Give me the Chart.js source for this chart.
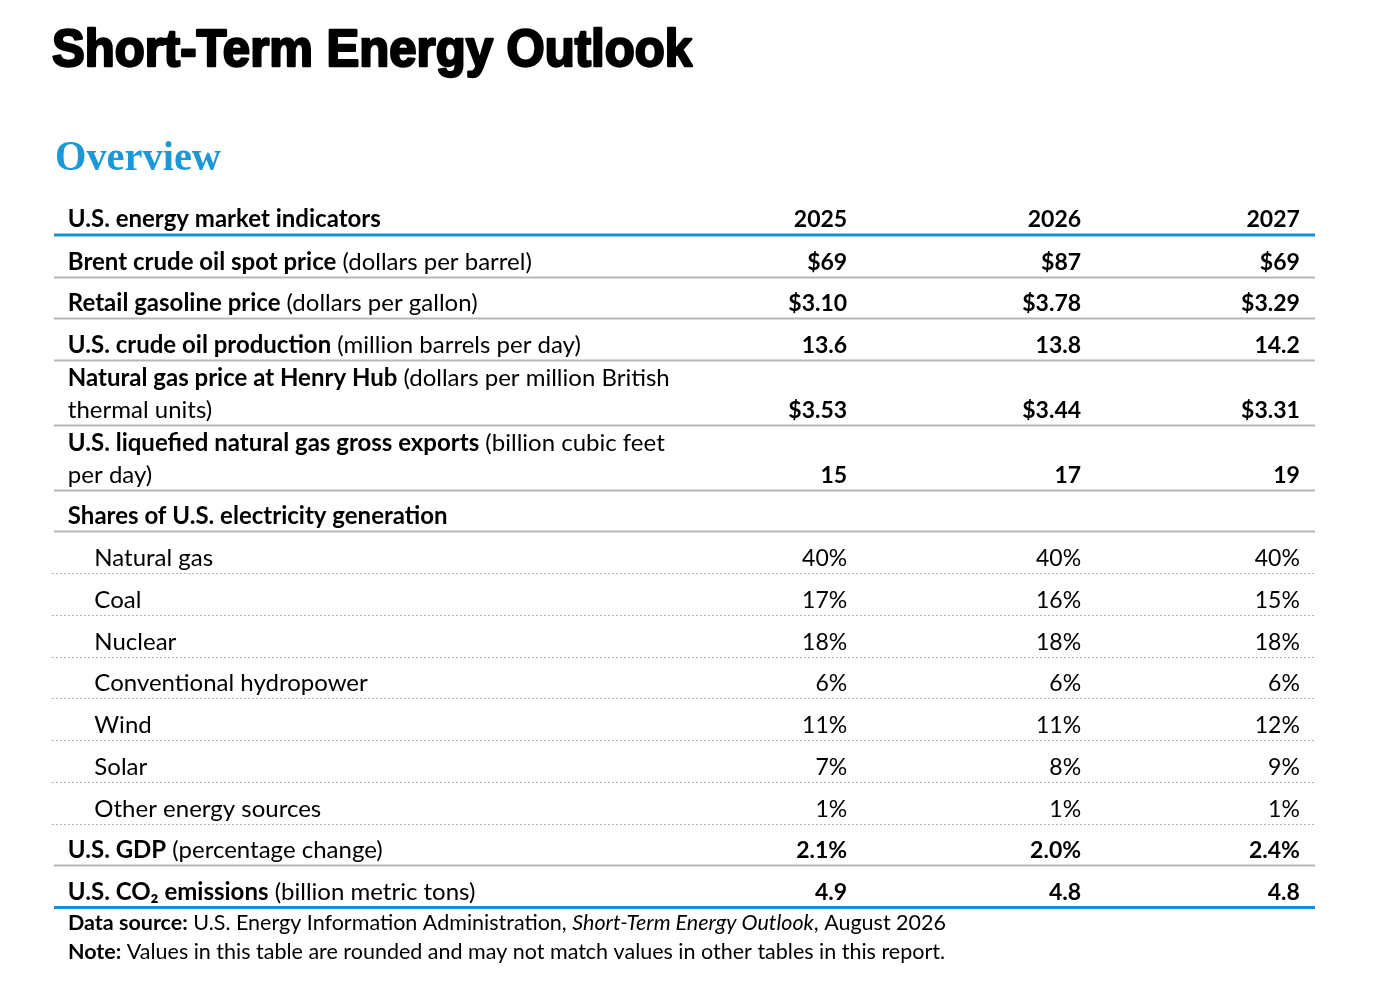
<!DOCTYPE html>
<html>
<head>
<meta charset="utf-8">
<script src="https://cdn.jsdelivr.net/npm/chart.js@4.4.1/dist/chart.umd.min.js"></script>
<style>
  html, body { margin: 0; padding: 0; background: #fff; }
  #wrap { width: 1373px; height: 1006px; position: relative; }
</style>
</head>
<body>
<div id="wrap"><canvas id="steoTable"></canvas></div>
<script>
// table content
const years = ['2025', '2026', '2027'];

const indicators = [
  'Brent crude oil spot price',
  'Retail gasoline price',
  'U.S. crude oil production',
  'Natural gas price at Henry Hub',
  'U.S. liquefied natural gas gross exports',
  'Shares of U.S. electricity generation',
  'Natural gas',
  'Coal',
  'Nuclear',
  'Conventional hydropower',
  'Wind',
  'Solar',
  'Other energy sources',
  'U.S. GDP',
  'U.S. CO\u2082 emissions'
];
const units = [
  '(dollars per barrel)',
  '(dollars per gallon)',
  '(million barrels per day)',
  '(dollars per million British\nthermal units)',
  '(billion cubic feet\nper day)',
  '', '', '', '', '', '', '', '',
  '(percentage change)',
  '(billion metric tons)'
];
// 'main' = bold indicator, 'group' = section heading, 'sub' = indented share
const rowKinds = ['main', 'main', 'main', 'main', 'main', 'group',
  'sub', 'sub', 'sub', 'sub', 'sub', 'sub', 'sub', 'main', 'main'];

const values2025 = [69, 3.10, 13.6, 3.53, 15, null, 40, 17, 18, 6, 11, 7, 1, 2.1, 4.9];
const values2026 = [87, 3.78, 13.8, 3.44, 17, null, 40, 16, 18, 6, 11, 8, 1, 2.0, 4.8];
const values2027 = [69, 3.29, 14.2, 3.31, 19, null, 40, 15, 18, 6, 12, 9, 1, 2.4, 4.8];

const prefixes = ['$', '$', '', '$', '', '', '', '', '', '', '', '', '', '', ''];
const suffixes = ['', '', '', '', '', '', '%', '%', '%', '%', '%', '%', '%', '%', ''];
const decimals = [0, 2, 1, 2, 0, 0, 0, 0, 0, 0, 0, 0, 0, 1, 1];

// layout
const FONT = 'Lato, "Noto Sans", sans-serif';
const colRight = [62.9, 81.45, 98.8];   // x-scale position of each year column (right edge)
const labelX = 1.1, indentX = 3.2;
const BLUE = '#1690d4';

// row heights in row units, two-line rows are taller
const rowUnits = units.map(u => u.indexOf('\n') >= 0 ? 1.55 : 1);
const rowBottom = [];
let acc = 0;
rowUnits.forEach(h => { acc += h; rowBottom.push(acc); });
const totalUnits = acc;

function fmt(i, v) {
  return prefixes[i] + v.toFixed(decimals[i]) + suffixes[i];
}

function makeDataset(label, vals) {
  const pts = [];
  vals.forEach((v, i) => {
    if (v !== null) pts.push({ x: colRight[years.indexOf(label)], y: rowBottom[i], row: i, v: v });
  });
  return { label: label, data: pts, pointRadius: 0, showLine: false };
}

function drawParts(ctx, parts, x, y) {
  let cx = x;
  parts.forEach(p => {
    ctx.font = p.font;
    ctx.fillText(p.text, cx, y);
    cx += ctx.measureText(p.text).width;
  });
}

const tablePlugin = {
  id: 'tableText',
  afterDraw(chart) {
    const ctx = chart.ctx;
    const xs = chart.scales.x, ys = chart.scales.y;
    const left = xs.getPixelForValue(0), right = xs.getPixelForValue(100);
    const bold = 'bold 24px ' + FONT, reg = '24px ' + FONT;
    const vBold = 'bold 23px ' + FONT, vReg = '23px ' + FONT;
    ctx.save();
    ctx.fillStyle = '#000';
    ctx.textBaseline = 'alphabetic';

    // title
    ctx.save();
    ctx.font = 'bold 52px "Liberation Sans", Arial, sans-serif';
    let w = ctx.measureText('Short-Term Energy Outlook').width;
    ctx.translate(52, 66);
    ctx.scale(640 / w, 1);
    ctx.lineWidth = 2.4;
    ctx.lineJoin = 'round';
    ctx.strokeStyle = '#000';
    ctx.fillText('Short-Term Energy Outlook', 0, 0);
    ctx.strokeText('Short-Term Energy Outlook', 0, 0);
    ctx.restore();

    // section heading
    ctx.save();
    ctx.font = 'bold 43px "Liberation Serif", "DejaVu Serif", serif';
    ctx.fillStyle = '#1a98d8';
    w = ctx.measureText('Overview').width;
    ctx.translate(55, 170);
    ctx.scale(166 / w, 1);
    ctx.fillText('Overview', 0, 0);
    ctx.restore();

    // column header
    const top = ys.getPixelForValue(0);
    ctx.font = bold;
    ctx.textAlign = 'left';
    ctx.fillText('U.S. energy market indicators', xs.getPixelForValue(labelX), top - 8);
    ctx.font = vBold;
    ctx.textAlign = 'right';
    years.forEach((yr, j) => ctx.fillText(yr, xs.getPixelForValue(colRight[j]), top - 8));

    // rules
    ctx.strokeStyle = BLUE;
    ctx.lineWidth = 3;
    ctx.beginPath(); ctx.moveTo(left, top); ctx.lineTo(right, top); ctx.stroke();
    rowBottom.forEach((b, i) => {
      const py = Math.round(ys.getPixelForValue(b)) + 0.5;
      ctx.beginPath();
      if (i === rowBottom.length - 1) {
        ctx.strokeStyle = BLUE; ctx.lineWidth = 3; ctx.setLineDash([]);
      } else if (rowKinds[i] === 'sub') {
        ctx.strokeStyle = '#b3b3b3'; ctx.lineWidth = 1; ctx.setLineDash([2, 2]);
      } else {
        ctx.strokeStyle = '#b8b8b8'; ctx.lineWidth = 2; ctx.setLineDash([]);
      }
      ctx.moveTo(left - (rowKinds[i] === 'sub' ? 2 : 0), py);
      ctx.lineTo(right, py);
      ctx.stroke();
    });
    ctx.setLineDash([]);

    // row labels
    ctx.textAlign = 'left';
    indicators.forEach((name, i) => {
      const base = ys.getPixelForValue(rowBottom[i]) - 7;
      if (rowKinds[i] === 'sub') {
        ctx.font = reg;
        ctx.fillText(name, xs.getPixelForValue(indentX), base);
        return;
      }
      const lines = units[i].split('\n');
      const lx = xs.getPixelForValue(labelX);
      const firstBase = base - 32 * (lines.length - 1);
      drawParts(ctx, [
        { text: name, font: bold },
        { text: lines[0] ? ' ' + lines[0] : '', font: reg }
      ], lx, firstBase);
      for (let k = 1; k < lines.length; k++) {
        ctx.font = reg;
        ctx.fillText(lines[k], lx, firstBase + 32 * k);
      }
    });

    // values, placed at each point of the year datasets
    ctx.textAlign = 'right';
    chart.data.datasets.forEach((ds, d) => {
      const meta = chart.getDatasetMeta(d);
      meta.data.forEach((el, k) => {
        const raw = ds.data[k];
        ctx.font = rowKinds[raw.row] === 'sub' ? vReg : vBold;
        ctx.fillText(fmt(raw.row, raw.v), el.x, el.y - 7);
      });
    });

    // footnotes
    ctx.textAlign = 'left';
    const fb = 'bold 21.5px ' + FONT, fr = '21.5px ' + FONT, fi = 'italic 21.5px ' + FONT;
    const fy = ys.getPixelForValue(totalUnits);
    drawParts(ctx, [
      { text: 'Data source:', font: fb },
      { text: ' U.S. Energy Information Administration, ', font: fr },
      { text: 'Short-Term Energy Outlook', font: fi },
      { text: ', August 2026', font: fr }
    ], 68, fy + 23);
    drawParts(ctx, [
      { text: 'Note:', font: fb },
      { text: ' Values in this table are rounded and may not match values in other tables in this report.', font: fr }
    ], 68, fy + 52);

    ctx.restore();
  }
};

new Chart(document.getElementById('steoTable'), {
  type: 'scatter',
  data: {
    datasets: [
      makeDataset('2025', values2025),
      makeDataset('2026', values2026),
      makeDataset('2027', values2027)
    ]
  },
  options: {
    responsive: true,
    maintainAspectRatio: false,
    animation: false,
    events: [],
    layout: { padding: { left: 54, right: 58, top: 235, bottom: 99 } },
    scales: {
      x: { type: 'linear', min: 0, max: 100, display: false },
      y: { type: 'linear', min: 0, max: totalUnits, reverse: true, display: false }
    },
    plugins: {
      legend: { display: false },
      tooltip: { enabled: false },
      title: { display: false }
    }
  },
  plugins: [tablePlugin]
});
</script>
</body>
</html>
